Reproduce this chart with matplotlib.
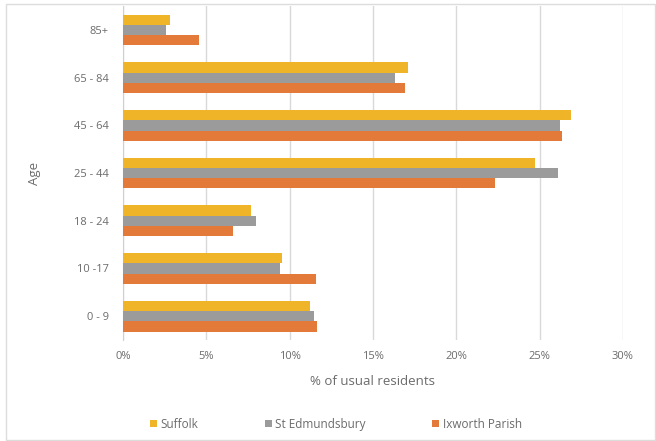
import numpy as np
import matplotlib
matplotlib.use('Agg')
from matplotlib import pyplot as plt
from matplotlib.patches import Rectangle
from matplotlib.ticker import PercentFormatter

# Age bands, bottom to top
ages = ['0 - 9', '10 -17', '18 - 24', '25 - 44', '45 - 64', '65 - 84', '85+']

# % of usual residents in each age band
suffolk = [11.2, 9.55, 7.7, 24.7, 26.9, 17.1, 2.85]
st_edmundsbury = [11.45, 9.4, 8.0, 26.1, 26.2, 16.3, 2.6]
ixworth_parish = [11.65, 11.6, 6.6, 22.3, 26.35, 16.95, 4.55]

series = [
    ('Suffolk', suffolk, '#F0B429'),
    ('St Edmundsbury', st_edmundsbury, '#9B9B9B'),
    ('Ixworth Parish', ixworth_parish, '#E47A3A'),
]

plt.rcParams['font.family'] = ['Open Sans', 'DejaVu Sans']
text_color = '#6b6b6b'

fig = plt.figure(figsize=(6.56, 4.41), dpi=100)
ax = fig.add_axes([0.1875, 0.229, 0.762, 0.757])

y = np.arange(len(ages))
bar_h = 0.215
for i, (name, vals, color) in enumerate(series):
    ax.barh(y + (1 - i) * bar_h, vals, height=bar_h, color=color,
            label=name, zorder=3)

ax.set_xlim(0, 30)
ax.set_ylim(-0.5, len(ages) - 0.5)
ax.set_xticks(range(0, 31, 5))
ax.xaxis.set_major_formatter(PercentFormatter(decimals=0))
ax.set_yticks(y)
ax.set_yticklabels(ages)
ax.grid(axis='x', color='#d9d9d9', linewidth=1, zorder=0)
for side in ['top', 'right', 'bottom']:
    ax.spines[side].set_visible(False)
ax.spines['left'].set_color('#d0d0d0')
ax.tick_params(axis='both', length=0, labelsize=8, colors=text_color, pad=8)
ax.tick_params(axis='y', pad=10)

ax.set_xlabel('% of usual residents', fontsize=9.5, color=text_color, labelpad=9)
ax.set_ylabel('Age', fontsize=9.5, color=text_color, labelpad=24)

handles, labels = ax.get_legend_handles_labels()
fig.legend(handles, labels, loc='center', bbox_to_anchor=(0.512, 0.038), ncol=3,
           frameon=False, fontsize=8.5, labelcolor=text_color, handlelength=0.6,
           handleheight=0.6, handletextpad=0.3, columnspacing=5.6)

# light frame around the whole chart
fig.patches.append(Rectangle((0.009, 0.002), 0.99, 0.99, transform=fig.transFigure,
                             fill=False, edgecolor='#dcdcdc', linewidth=1))

fig.savefig('out.png', dpi=100)
